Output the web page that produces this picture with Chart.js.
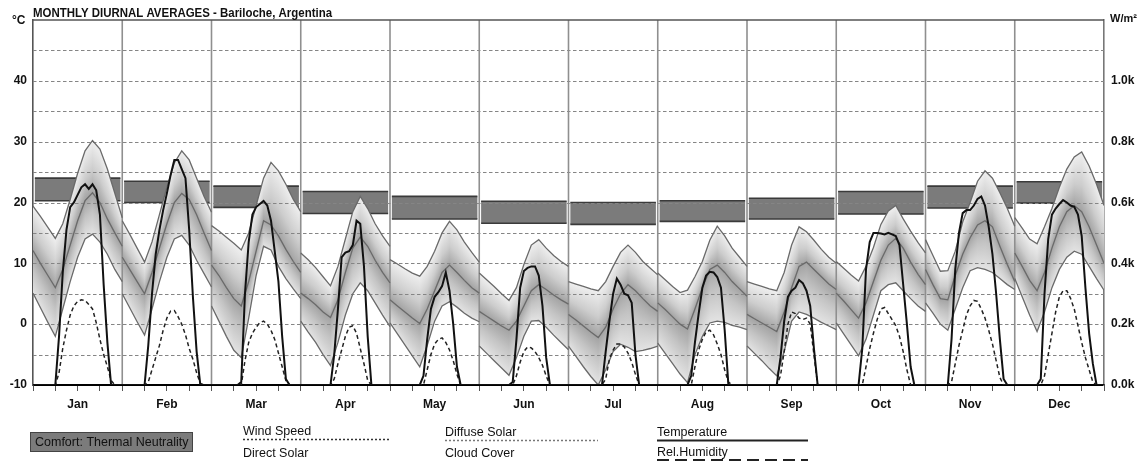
<!DOCTYPE html>
<html lang="en">
<head>
<meta charset="UTF-8">
<title>Monthly Diurnal Averages - Bariloche, Argentina</title>
<script src="https://cdn.jsdelivr.net/npm/chart.js@4.4.0/dist/chart.umd.min.js"></script>
<style>
    html, body { margin: 0; padding: 0; background: #fff; }
    #chart { display: block; }
</style>
</head>
<body>
<canvas id="chart" width="1138" height="461"></canvas>
<script>
// month names (x axis)
const months = ['Jan', 'Feb', 'Mar', 'Apr', 'May', 'Jun', 'Jul', 'Aug', 'Sep', 'Oct', 'Nov', 'Dec'];

// comfort band (thermal neutrality), degC
const comfortLow  = [20.3, 20.0, 19.2, 18.2, 17.3, 16.6, 16.4, 16.9, 17.3, 18.1, 19.1, 19.9];
const comfortHigh = [24.0, 23.5, 22.7, 21.8, 21.0, 20.2, 20.0, 20.3, 20.7, 21.8, 22.7, 23.4];

// temperature, degC, every 2 hours (0h .. 24h)
const tempMax = [
    [19.4, 17.7, 15.9, 14.1, 16.5, 20.5, 24.8, 28.5, 30.2, 28.8, 25.5, 21.5, 17.5],
    [17.0, 14.8, 12.5, 10.2, 13.5, 18.0, 22.5, 26.5, 28.5, 27.0, 24.0, 21.0, 18.4],
    [16.2, 15.3, 14.3, 13.3, 12.2, 15.0, 19.5, 24.0, 26.6, 25.2, 23.0, 20.5, 18.5],
    [11.7, 10.6, 9.3, 7.8, 6.3, 9.5, 14.0, 18.5, 21.0, 19.0, 16.5, 14.5, 12.8],
    [10.6, 9.9, 9.1, 8.4, 7.9, 9.5, 12.0, 15.0, 16.9, 15.5, 13.5, 11.8, 10.2],
    [8.4, 7.3, 6.2, 5.0, 3.9, 6.0, 9.8, 13.0, 13.9, 12.5, 11.3, 10.3, 9.5],
    [7.0, 6.6, 6.2, 5.8, 5.5, 7.0, 9.5, 11.8, 13.0, 11.8, 10.3, 9.2, 8.1],
    [8.4, 7.3, 6.2, 5.2, 5.6, 7.8, 10.3, 13.8, 16.1, 14.5, 12.5, 11.0, 9.5],
    [7.0, 6.6, 6.2, 5.8, 5.5, 8.5, 13.0, 16.0, 15.2, 13.8, 12.3, 11.0, 10.0],
    [10.3, 9.2, 8.1, 7.1, 9.5, 12.6, 16.4, 18.6, 19.5, 17.3, 15.3, 13.4, 11.7],
    [13.9, 11.3, 8.7, 8.8, 12.0, 16.8, 20.0, 23.5, 25.2, 24.0, 21.6, 19.0, 16.1],
    [17.5, 15.8, 14.0, 13.2, 16.0, 19.0, 22.5, 25.5, 27.5, 28.3, 26.0, 23.0, 19.5]
];
const tempMean = [
    [12.1, 10.0, 8.0, 6.0, 9.0, 13.0, 17.0, 20.3, 21.6, 20.0, 17.3, 15.0, 12.8],
    [11.0, 9.0, 7.0, 5.0, 8.5, 12.5, 16.5, 20.0, 21.5, 20.5, 18.0, 15.0, 12.1],
    [9.7, 8.0, 6.0, 4.2, 3.0, 7.0, 12.0, 17.0, 16.3, 14.5, 12.3, 10.3, 8.5],
    [5.1, 4.2, 3.2, 2.0, 1.1, 4.0, 8.5, 12.5, 14.3, 12.8, 10.5, 8.5, 6.8],
    [4.0, 3.0, 2.0, 1.0, 0.1, 2.5, 5.5, 8.5, 9.7, 8.5, 7.2, 6.0, 5.1],
    [2.1, 1.3, 0.5, -0.3, -1.0, 0.5, 3.0, 5.5, 6.5, 5.7, 4.8, 4.0, 3.3],
    [1.6, 0.7, -0.3, -1.3, -2.2, -0.5, 2.5, 5.0, 6.5, 5.5, 4.2, 3.0, 2.1],
    [3.5, 2.4, 1.2, 0.0, -0.8, 2.5, 6.0, 9.0, 9.7, 8.5, 7.0, 5.8, 4.6],
    [1.6, 0.9, 0.2, -0.5, -1.2, 2.0, 6.0, 9.5, 10.2, 9.0, 7.8, 6.6, 5.7],
    [5.1, 3.8, 2.4, 1.0, 3.5, 7.0, 10.5, 13.0, 14.1, 12.5, 10.2, 8.2, 6.5],
    [9.0, 6.5, 4.2, 4.0, 8.0, 11.5, 14.2, 16.3, 17.0, 16.0, 12.8, 9.8, 7.0],
    [11.7, 9.5, 7.2, 5.5, 8.5, 12.5, 16.0, 18.5, 19.5, 18.5, 16.0, 13.0, 10.0]
];
const tempMin = [
    [5.1, 2.7, 0.3, -2.0, 2.5, 7.0, 11.0, 14.0, 14.8, 13.5, 11.5, 9.0, 7.0],
    [5.0, 2.7, 0.4, -1.8, 2.5, 7.0, 11.0, 14.0, 14.6, 13.0, 10.5, 8.3, 6.1],
    [3.0, 0.5, -2.0, -4.3, -5.5, 1.0, 8.0, 12.8, 12.2, 9.5, 7.5, 5.8, 4.2],
    [0.5, -1.3, -3.0, -5.0, -6.8, -3.0, 1.5, 5.0, 6.8, 5.5, 3.5, 1.5, -0.4],
    [0.2, -1.6, -3.4, -5.2, -7.0, -3.5, 0.5, 3.0, 3.7, 2.8, 1.8, 1.0, 0.4],
    [-3.6, -4.8, -6.0, -7.2, -8.4, -5.5, -2.0, 0.5, 0.6, -0.5, -1.8, -3.0, -4.2],
    [-3.6, -5.3, -7.0, -8.6, -10.0, -7.5, -4.5, -3.3, -3.8, -4.5, -4.3, -4.0, -3.6],
    [-3.1, -4.8, -6.5, -8.2, -9.6, -5.0, -2.0, 0.2, 0.5, 0.3, -0.2, -0.5, -0.9],
    [-3.6, -4.8, -6.0, -7.3, -8.5, -4.5, 0.5, 2.0, 1.6, 1.0, 0.3, -0.3, -0.9],
    [0.2, -1.6, -3.4, -5.2, -2.5, 1.5, 5.5, 6.5, 6.8, 5.5, 4.2, 3.0, 2.1],
    [3.5, 1.8, 0.0, -1.0, 2.5, 6.0, 8.8, 9.3, 9.0, 8.5, 7.5, 6.5, 5.7],
    [7.5, 4.5, 1.5, -1.2, 2.0, 6.0, 9.0, 11.0, 12.0, 11.5, 9.5, 7.5, 5.6]
];

// solar radiation, W/m2, hourly (0h .. 24h)
const directSolar = [
    [0, 0, 0, 0, 0, 0, 0, 160, 370, 510, 585, 600, 625, 650, 660, 645, 660, 640, 560, 330, 140, 0, 0, 0, 0],
    [0, 0, 0, 0, 0, 0, 0, 130, 300, 430, 510, 575, 630, 690, 740, 740, 710, 680, 510, 290, 110, 0, 0, 0, 0],
    [0, 0, 0, 0, 0, 0, 0, 0, 10, 300, 470, 560, 585, 595, 605, 590, 540, 440, 340, 160, 20, 0, 0, 0, 0],
    [0, 0, 0, 0, 0, 0, 0, 0, 0, 100, 250, 420, 435, 440, 460, 540, 530, 390, 160, 0, 0, 0, 0, 0, 0],
    [0, 0, 0, 0, 0, 0, 0, 0, 0, 30, 150, 250, 290, 305, 325, 370, 310, 200, 60, 0, 0, 0, 0, 0, 0],
    [0, 0, 0, 0, 0, 0, 0, 0, 0, 10, 150, 320, 375, 385, 390, 390, 360, 260, 90, 0, 0, 0, 0, 0, 0],
    [0, 0, 0, 0, 0, 0, 0, 0, 0, 0, 110, 210, 300, 350, 330, 300, 295, 270, 100, 0, 0, 0, 0, 0, 0],
    [0, 0, 0, 0, 0, 0, 0, 0, 0, 30, 140, 235, 320, 360, 372, 370, 355, 320, 180, 0, 0, 0, 0, 0, 0],
    [0, 0, 0, 0, 0, 0, 0, 0, 0, 90, 210, 290, 310, 320, 345, 335, 310, 260, 120, 0, 0, 0, 0, 0, 0],
    [0, 0, 0, 0, 0, 0, 0, 120, 380, 470, 500, 500, 498, 495, 500, 495, 490, 460, 330, 200, 60, 0, 0, 0, 0],
    [0, 0, 0, 0, 0, 0, 0, 150, 380, 500, 565, 575, 575, 590, 612, 620, 590, 520, 430, 300, 150, 20, 0, 0, 0],
    [0, 0, 0, 0, 0, 0, 0, 20, 300, 480, 560, 580, 595, 608, 600, 590, 586, 560, 490, 320, 170, 70, 0, 0, 0]
];
const diffuseSolar = [
    [0, 0, 0, 0, 0, 0, 0, 40, 120, 180, 230, 260, 275, 280, 278, 265, 250, 205, 150, 100, 60, 15, 0, 0, 0],
    [0, 0, 0, 0, 0, 0, 0, 10, 50, 90, 130, 180, 220, 243, 245, 225, 200, 165, 120, 85, 40, 5, 0, 0, 0],
    [0, 0, 0, 0, 0, 0, 0, 0, 0, 80, 140, 170, 190, 205, 210, 200, 180, 150, 105, 60, 15, 0, 0, 0, 0],
    [0, 0, 0, 0, 0, 0, 0, 0, 0, 20, 70, 115, 160, 190, 195, 170, 120, 70, 15, 0, 0, 0, 0, 0, 0],
    [0, 0, 0, 0, 0, 0, 0, 0, 0, 0, 50, 100, 135, 150, 155, 140, 115, 80, 35, 0, 0, 0, 0, 0, 0],
    [0, 0, 0, 0, 0, 0, 0, 0, 0, 0, 30, 75, 110, 125, 122, 110, 90, 65, 30, 0, 0, 0, 0, 0, 0],
    [0, 0, 0, 0, 0, 0, 0, 0, 0, 0, 20, 85, 115, 135, 135, 125, 105, 75, 35, 0, 0, 0, 0, 0, 0],
    [0, 0, 0, 0, 0, 0, 0, 0, 0, 0, 60, 115, 150, 175, 180, 165, 135, 100, 50, 10, 0, 0, 0, 0, 0],
    [0, 0, 0, 0, 0, 0, 0, 0, 0, 30, 110, 200, 240, 235, 220, 215, 220, 200, 100, 0, 0, 0, 0, 0, 0],
    [0, 0, 0, 0, 0, 0, 0, 0, 60, 120, 170, 215, 250, 255, 235, 215, 195, 160, 110, 50, 0, 0, 0, 0, 0],
    [0, 0, 0, 0, 0, 0, 0, 10, 70, 130, 180, 230, 260, 278, 275, 250, 220, 180, 135, 80, 25, 0, 0, 0, 0],
    [0, 0, 0, 0, 0, 0, 0, 0, 30, 100, 170, 240, 290, 310, 310, 285, 250, 195, 140, 90, 50, 10, 0, 0, 0]
];

// left axis ticks (degC) and right axis ticks (W/m2)
const tempTicks = [-10, 0, 10, 20, 30, 40];
const solarTicks = [0, 200, 400, 600, 800, 1000];

const FONT = '"Liberation Sans", Arial, sans-serif';

// one panel of 24 hours per month; a null breaks the line between months
function toPoints(rows) {
    const pts = [];
    rows.forEach((row, m) => {
        const step = 24 / (row.length - 1);
        row.forEach((v, i) => pts.push({ x: m * 24 + i * step, y: v }));
        pts.push({ x: m * 24 + 24, y: null });
    });
    return pts;
}

function lineSet(label, rows, axis, color, width, dash) {
    return {
        label: label,
        data: toPoints(rows),
        yAxisID: axis,
        borderColor: color,
        borderWidth: width,
        borderDash: dash || [],
        pointRadius: 0,
        tension: 0,
        fill: false,
        spanGaps: false
    };
}

// comfort rectangles, shaded temperature range and grid on top of them
const panelPlugin = {
    id: 'panels',
    beforeDatasetsDraw(chart) {
        const { ctx, chartArea: a, scales: { x, y } } = chart;
        ctx.save();
        ctx.beginPath();
        ctx.rect(a.left, a.top, a.right - a.left, a.bottom - a.top);
        ctx.clip();

        months.forEach((name, m) => {
            const x0 = x.getPixelForValue(m * 24 + 0.5);
            const x1 = x.getPixelForValue(m * 24 + 23.5);
            const yt = y.getPixelForValue(comfortHigh[m]);
            const yb = y.getPixelForValue(comfortLow[m]);
            ctx.fillStyle = '#7b7b7b';
            ctx.fillRect(x0, yt, x1 - x0, yb - yt);
            ctx.strokeStyle = '#3a3a3a';
            ctx.lineWidth = 1.6;
            ctx.beginPath();
            ctx.moveTo(x0, yt); ctx.lineTo(x1, yt);
            ctx.moveTo(x0, yb); ctx.lineTo(x1, yb);
            ctx.stroke();
        });

        // shaded range, one pixel column at a time so the shading follows the curves
        const strip = (px, y0, y1, stops) => {
            if (y1 - y0 < 0.5) return;
            const g = ctx.createLinearGradient(0, y0, 0, y1);
            stops.forEach(s => g.addColorStop(s[0], s[1]));
            ctx.fillStyle = g;
            ctx.fillRect(px, y0, 1, y1 - y0);
        };
        const upStops = [[0, '#efefef'], [0.55, '#cdcdcd'], [1, '#a3a3a3']];
        const lowStops = [[0, '#a3a3a3'], [0.45, '#c4c4c4'], [1, '#e3e3e3']];

        months.forEach((name, m) => {
            const n = tempMax[m].length;
            const step = 24 / (n - 1);
            const pl = Math.floor(x.getPixelForValue(m * 24));
            const pr = Math.ceil(x.getPixelForValue(m * 24 + 24));
            for (let px = pl; px < pr; px++) {
                const h = Math.min(24, Math.max(0, x.getValueForPixel(px + 0.5) - m * 24));
                const k = Math.min(n - 2, Math.floor(h / step));
                const t = h / step - k;
                const at = rows => rows[m][k] + (rows[m][k + 1] - rows[m][k]) * t;
                const yu = y.getPixelForValue(at(tempMax));
                const ym = y.getPixelForValue(at(tempMean));
                const yl = y.getPixelForValue(at(tempMin));
                strip(px, yu, ym, upStops);
                strip(px, ym, yl, lowStops);
            }
        });

        // dashed horizontal grid every 5 degC
        ctx.setLineDash([3.5, 2.5]);
        ctx.strokeStyle = '#858585';
        ctx.lineWidth = 1.2;
        for (let v = -5; v < 50; v += 5) {
            const py = Math.round(y.getPixelForValue(v)) + 0.5;
            ctx.beginPath();
            ctx.moveTo(a.left, py);
            ctx.lineTo(a.right, py);
            ctx.stroke();
        }
        ctx.setLineDash([]);

        // month dividers
        ctx.strokeStyle = '#8f8f8f';
        ctx.lineWidth = 1.6;
        for (let m = 1; m < 12; m++) {
            const px = x.getPixelForValue(m * 24);
            ctx.beginPath();
            ctx.moveTo(px, a.top);
            ctx.lineTo(px, a.bottom);
            ctx.stroke();
        }
        ctx.restore();
    },
    afterDraw(chart) {
        const { ctx, chartArea: a } = chart;
        ctx.save();

        // frame top line
        ctx.strokeStyle = '#555';
        ctx.lineWidth = 1.6;
        ctx.beginPath();
        ctx.moveTo(a.left, a.top);
        ctx.lineTo(a.right, a.top);
        ctx.stroke();

        ctx.fillStyle = '#111';
        ctx.textBaseline = 'alphabetic';
        ctx.textAlign = 'left';

        // title, squeezed to the width it has in the original
        ctx.font = 'bold 12px ' + FONT;
        const title = 'MONTHLY DIURNAL AVERAGES - Bariloche, Argentina';
        const tw = ctx.measureText(title).width;
        ctx.save();
        ctx.translate(33, 17);
        ctx.scale(299 / tw, 1);
        ctx.fillText(title, 0, 0);
        ctx.restore();

        ctx.font = 'bold 12px ' + FONT;
        ctx.fillText('°C', 12, 24);
        ctx.font = 'bold 11px ' + FONT;
        ctx.fillText('W/m²', 1110, 22);

        // legend
        ctx.font = '12.5px ' + FONT;
        ctx.fillStyle = '#7b7b7b';
        ctx.fillRect(30, 432, 163, 20);
        ctx.strokeStyle = '#444';
        ctx.lineWidth = 1;
        ctx.strokeRect(30.5, 432.5, 162, 19);
        ctx.fillStyle = '#111';
        ctx.fillText('Comfort: Thermal Neutrality', 35, 446);

        const entry = (text, x, y, w, color, width, dash) => {
            ctx.fillStyle = '#111';
            ctx.fillText(text, x, y);
            ctx.strokeStyle = color;
            ctx.lineWidth = width;
            ctx.setLineDash(dash);
            ctx.beginPath();
            ctx.moveTo(x, y + 4.5);
            ctx.lineTo(x + w, y + 4.5);
            ctx.stroke();
            ctx.setLineDash([]);
        };
        entry('Wind Speed', 243, 435, 147, '#333', 1.5, [2, 2]);
        entry('Direct Solar', 243, 457, 147, '#333', 1, []);
        entry('Diffuse Solar', 445, 436, 153, '#777', 1.5, [2, 2]);
        entry('Cloud Cover', 445, 457, 153, '#999', 1, []);
        entry('Temperature', 657, 436, 151, '#222', 2, []);
        entry('Rel.Humidity', 657, 456, 151, '#222', 3, [12, 6]);

        ctx.restore();
    }
};

new Chart(document.getElementById('chart'), {
    type: 'line',
    data: {
        datasets: [
            lineSet('Direct Solar', directSolar, 'y2', '#111', 2, []),
            lineSet('Diffuse Solar', diffuseSolar, 'y2', '#222', 1.5, [4, 3]),
            lineSet('Max Temperature', tempMax, 'y', '#6a6a6a', 1.3),
            lineSet('Mean Temperature', tempMean, 'y', '#6a6a6a', 1.3),
            lineSet('Min Temperature', tempMin, 'y', '#6a6a6a', 1.3)
        ]
    },
    options: {
        responsive: false,
        animation: false,
        devicePixelRatio: 1,
        layout: { padding: { top: 20, bottom: 46, left: 0, right: 0 } },
        plugins: {
            legend: { display: false },
            title: { display: false },
            tooltip: { enabled: false }
        },
        scales: {
            x: {
                type: 'linear',
                min: 0,
                max: 288,
                afterFit(scale) { scale.height = 30; },
                ticks: {
                    stepSize: 6,
                    autoSkip: false,
                    maxRotation: 0,
                    padding: 6,
                    color: '#111',
                    font: { family: FONT, size: 12, weight: 'bold' },
                    callback: v => (v % 24 === 12 ? months[(v - 12) / 24] : '')
                },
                grid: {
                    color: 'rgba(0,0,0,0)',
                    drawTicks: true,
                    tickLength: 6,
                    tickColor: '#555',
                    tickWidth: 1
                },
                border: { color: '#000', width: 2 }
            },
            y: {
                position: 'left',
                min: -10,
                max: 50,
                afterFit(scale) { scale.width = 33; },
                afterBuildTicks(scale) { scale.ticks = tempTicks.map(v => ({ value: v })); },
                ticks: {
                    padding: 6,
                    color: '#111',
                    font: { family: FONT, size: 12, weight: 'bold' }
                },
                grid: { display: false, drawTicks: false },
                border: { color: '#555', width: 1.6 }
            },
            y2: {
                position: 'right',
                min: 0,
                max: 1200,
                afterFit(scale) { scale.width = 34; },
                afterBuildTicks(scale) { scale.ticks = solarTicks.map(v => ({ value: v })); },
                ticks: {
                    padding: 7,
                    color: '#111',
                    font: { family: FONT, size: 12, weight: 'bold' },
                    callback: v => (v / 1000).toFixed(1) + 'k'
                },
                grid: { display: false, drawTicks: false },
                border: { color: '#777', width: 1.6 }
            }
        }
    },
    plugins: [panelPlugin]
});
</script>
</body>
</html>
